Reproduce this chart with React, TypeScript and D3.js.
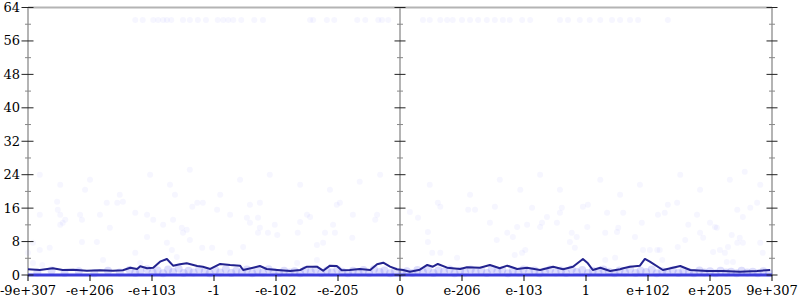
import React from "react";
import * as d3 from "d3";

const xTickPos = [-6, -5, -4, -3, -2, -1, 0, 1, 2, 3, 4, 5, 6];
const xTickLabels = ["-9e+307", "-e+206", "-e+103", "-1", "-e-102", "-e-205", "0", "e-206", "e-103", "1", "e+102", "e+205", "9e+307"];
const yTicks = [0, 8, 16, 24, 32, 40, 48, 56, 64];
const yMinor = [4, 12, 20, 28, 36, 44, 52, 60];
const axisPos = [-6, 0, 6];

const lineX = [-6.0, -5.81, -5.6, -5.44, -5.27, -5.05, -4.84, -4.63, -4.47, -4.35, -4.24, -4.19, -4.08, -3.98, -3.87, -3.76, -3.66, -3.55, -3.44, -3.27, -3.18, -3.06,
  -2.9, -2.74, -2.58, -2.53, -2.37, -2.26, -2.15, -1.98, -1.77, -1.61, -1.5, -1.34, -1.24, -1.13, -1.02, -0.94, -0.81, -0.65, -0.48, -0.37, -0.27, -0.16, -0.05,
  0.05, 0.16, 0.32, 0.44, 0.53, 0.61, 0.76, 0.97, 1.08, 1.29, 1.45, 1.61, 1.73, 1.89, 2.05, 2.26, 2.47, 2.63, 2.79, 2.95, 3.03, 3.11,
  3.23, 3.39, 3.55, 3.6, 3.71, 3.87, 3.95, 4.03, 4.24, 4.4, 4.52, 4.68, 4.95, 5.21, 5.48, 5.76, 5.97];
const lineY = [1.37, 1.2, 1.6, 1.2, 1.27, 1.03, 1.13, 1.03, 1.13, 1.75, 1.44, 2.09, 1.6, 1.75, 3.19, 3.84, 2.23, 2.57, 2.8, 2.16, 1.99, 1.44,
  2.64, 2.4, 2.23, 1.2, 1.75, 2.16, 1.44, 1.2, 0.96, 1.2, 1.99, 1.99, 1.03, 2.23, 2.16, 1.13, 1.2, 1.44, 1.2, 2.57, 2.95, 1.99, 1.37,
  1.2, 0.79, 1.27, 2.4, 1.99, 2.64, 1.75, 1.44, 1.85, 1.75, 2.4, 1.6, 2.23, 1.44, 1.75, 1.2, 1.99, 1.37, 1.99, 3.84, 2.8, 1.2,
  1.75, 0.96, 1.37, 1.6, 1.99, 2.23, 3.84, 3.19, 1.2, 1.75, 2.16, 1.2, 0.96, 0.96, 0.79, 0.96, 1.2, 1.03];

const floorX = [-6, 6];
const floorY = [0, 0];

const scatterPts: [number, number][] = [
  [-5.81, 14.4], [-5.52, 15.6], [-5.48, 14.4], [-5.4, 13.2], [-5.53, 17.5], [-5.16, 14.4], [-5.13, 13.2], [-4.84, 14.4], [-4.73, 17.3], [-4.56, 17.3],
  [-4.47, 17.5], [-4.27, 14.9], [-4.08, 14.4], [-3.98, 13.2], [-3.82, 12.0], [-3.66, 13.2], [-3.52, 11.3], [-3.44, 10.8], [-3.35, 16.3], [-3.27, 17.3],
  [-6.0, 5.3], [-5.92, 7.7], [-5.81, 6.0], [-5.65, 6.5], [-5.48, 12.0], [-5.44, 12.5], [-5.13, 7.9], [-4.89, 7.9], [-4.79, 3.6], [-4.68, 11.3],
  [-4.27, 5.3], [-4.19, 2.9], [-4.08, 9.1], [-3.76, 7.7], [-3.68, 6.0], [-3.6, 4.3], [-3.5, 10.1], [-3.39, 8.4], [-5.92, 2.9], [-5.77, 2.4],
  [-2.95, 15.6], [-2.74, 14.4], [-2.47, 13.7], [-2.42, 12.5], [-2.29, 13.7], [-2.26, 11.3], [-2.13, 10.1], [-2.02, 12.0], [-1.98, 9.6], [-2.29, 10.1],
  [-1.61, 12.7], [-1.65, 10.1], [-1.5, 14.4], [-1.45, 13.9], [-1.34, 7.2], [-1.24, 7.7], [-1.21, 10.1], [-1.05, 10.1], [-1.08, 12.0], [-0.76, 14.4],
  [-0.77, 8.9], [-0.4, 13.2], [-0.37, 14.4], [-3.19, 6.5], [-3.03, 6.5], [-2.74, 5.3], [-2.53, 6.7], [-1.66, 2.9], [-1.34, 3.6], [-3.18, 17.3],
  [-2.42, 16.8], [-2.26, 17.3], [-1.02, 16.8], [-0.97, 17.3],
  [0.61, 17.3], [0.65, 16.3], [0.16, 15.1], [0.29, 13.7], [0.45, 10.3], [0.45, 7.9], [0.52, 5.3], [0.65, 5.3], [0.92, 4.1], [1.1, 15.6],
  [1.21, 15.6], [1.53, 16.3], [1.45, 12.5], [1.73, 10.1], [1.82, 9.1], [1.56, 8.4], [1.89, 11.5], [2.05, 12.0], [1.97, 5.3], [2.02, 6.0],
  [1.85, 4.8], [2.26, 11.5], [2.29, 12.5], [2.37, 13.9], [2.58, 14.9], [2.61, 16.1], [2.53, 12.5], [2.77, 10.1], [2.74, 7.9], [2.82, 6.5],
  [2.85, 9.1], [2.95, 16.3], [3.03, 16.8], [3.02, 11.5], [2.13, 16.1],
  [3.34, 14.9], [3.31, 10.1], [3.5, 10.3], [3.52, 11.3], [3.79, 9.1], [3.6, 14.9], [3.9, 12.5], [3.92, 6.0], [4.03, 6.0], [4.15, 6.0],
  [4.19, 6.0], [4.23, 3.6], [4.16, 14.4], [4.27, 14.9], [4.32, 16.8], [4.47, 17.3], [4.48, 6.7], [4.6, 8.4], [4.79, 14.4], [4.65, 12.0],
  [4.84, 10.1], [4.89, 8.9], [5.0, 12.5], [5.08, 11.5], [5.11, 11.3], [5.05, 5.5], [5.16, 6.0], [5.24, 5.3], [5.27, 3.1], [5.37, 3.1],
  [5.29, 6.7], [5.35, 9.6], [5.44, 7.7], [5.48, 8.9], [5.53, 7.7], [5.44, 15.6], [5.65, 16.1], [5.53, 13.9], [5.81, 7.7], [5.85, 5.3],
  [5.76, 17.3], [3.31, 3.6], [3.47, 4.1],
  [-5.81, 24.0], [-5.48, 21.6], [-5.08, 20.4], [-5.0, 22.8], [-4.52, 19.2], [-4.03, 24.0], [-3.71, 21.6], [-3.63, 19.2], [-3.39, 25.2], [-2.9, 19.2],
  [-2.58, 22.8], [-2.1, 24.0], [-1.61, 21.6], [-1.13, 20.4], [-0.65, 22.3], [-0.32, 24.0], [0.48, 21.6], [1.13, 19.2], [1.61, 22.8], [1.94, 20.4],
  [2.26, 24.0], [2.58, 20.4], [3.23, 22.8], [3.55, 19.2], [3.87, 21.6], [4.52, 24.0], [4.84, 20.4], [5.32, 22.8], [5.81, 21.6], [5.56, 24.7],
];

const topRowX = [-4.27, -4.15, -3.98, -3.9, -3.82, -3.76, -3.69, -3.5, -3.39, -3.26, -3.13, -2.94, -2.85, -2.77, -2.69, -2.56, -2.35, -2.21,
  -1.45, -1.4, -1.18, -1.06, -0.69, -0.56, -0.35, -0.29, -0.19,
  0.37, 0.48, 0.65, 0.76, 0.85, 1.0, 1.13, 1.26, 1.4, 1.53, 1.66, 1.77, 1.97, 2.1, 2.58, 2.71, 2.9, 3.06, 3.23, 3.42, 3.55, 3.71, 3.84, 4.32];
const topRowY = 61;

const bandPts: [number, number][] = [
  [-5.85, 0.6], [-5.62, 1.1], [-5.41, 0.5], [-5.18, 0.9], [-4.93, 0.4], [-4.71, 1.0], [-4.52, 0.6],
  [-4.36, 1.2], [-4.27, 0.5], [-4.19, 0.9], [-4.08, 1.4], [-3.99, 0.6], [-3.91, 1.1], [-3.82, 0.4], [-3.74, 1.3], [-3.66, 0.7], [-3.57, 1.5],
  [-3.49, 0.5], [-3.41, 1.0], [-3.33, 0.6], [-3.24, 1.3], [-3.15, 0.8], [-3.07, 0.4], [-2.98, 1.2], [-2.9, 0.6], [-2.81, 1.4], [-2.72, 0.5],
  [-2.64, 1.0], [-2.55, 0.7], [-2.47, 1.3], [-2.38, 0.4], [-2.3, 1.1], [-2.21, 0.6], [-2.12, 1.4], [-2.04, 0.8], [-1.95, 0.5], [-1.87, 1.0],
  [-1.78, 0.6], [-1.7, 0.9], [-1.61, 0.4], [-1.53, 1.2], [-1.44, 0.7], [-1.36, 1.4], [-1.27, 0.5], [-1.18, 1.1], [-1.1, 0.6], [-1.01, 1.3],
  [-0.93, 0.8], [-0.84, 0.4], [-0.76, 1.0], [-0.67, 0.6], [-0.59, 1.2], [-0.5, 0.5], [-0.42, 1.4], [-0.33, 0.7], [-0.25, 1.1], [-0.16, 0.4], [-0.08, 0.9],
  [0.03, 0.6], [0.11, 0.9], [0.2, 0.5], [0.28, 1.2], [0.37, 0.7], [0.45, 1.4], [0.54, 0.5], [0.62, 1.1], [0.71, 0.8], [0.8, 1.3], [0.88, 0.4],
  [0.97, 1.0], [1.05, 0.6], [1.14, 1.3], [1.22, 0.7], [1.31, 1.1], [1.4, 0.5], [1.48, 1.4], [1.57, 0.8], [1.65, 1.2], [1.74, 0.4], [1.82, 1.0],
  [1.91, 0.6], [1.99, 1.3], [2.08, 0.7], [2.17, 1.1], [2.25, 0.4], [2.34, 0.9], [2.42, 1.3], [2.51, 0.6], [2.6, 1.1], [2.68, 0.5], [2.77, 1.4],
  [2.85, 0.7], [2.94, 1.2], [3.03, 0.5], [3.11, 1.0], [3.2, 0.6], [3.28, 1.3], [3.37, 0.8], [3.46, 0.4], [3.54, 1.1], [3.63, 0.6], [3.71, 1.4],
  [3.8, 0.5], [3.88, 1.0], [3.97, 0.7], [4.06, 1.3], [4.14, 0.4], [4.23, 0.9], [4.31, 0.6], [4.4, 1.2], [4.49, 0.5], [4.57, 1.0], [4.66, 0.7],
  [4.74, 0.4], [4.83, 1.1], [4.91, 0.6], [5.0, 0.9], [5.09, 0.4], [5.17, 1.0], [5.26, 0.6], [5.34, 0.8], [5.43, 0.4], [5.51, 1.0], [5.6, 0.6],
  [5.69, 0.8], [5.77, 0.4], [5.86, 0.9], [5.95, 0.5],
];

export default function App() {
  const W = 800, H = 300;
  const x = d3.scaleLinear().domain([-6, 6]).range([28, 772]);
  const y = d3.scaleLinear().domain([0, 64]).range([275, 7.5]);
  const line = d3.line<number>().x((_, i) => x(lineX[i])).y((d) => y(d));
  const floorLine = d3.line<number>().x((_, i) => x(floorX[i])).y((d) => y(d));
  const font = "DejaVu Serif";
  const dotFill = "rgba(100,100,255,0.06)";
  return (
    <svg width={W} height={H} style={{ position: "absolute", left: 0, top: 0 }} fontFamily={font}>
      <rect x={0} y={0} width={W} height={H} fill="#fff" />
      <line x1={x(-6)} x2={x(6)} y1={y(64)} y2={y(64)} stroke="#b4b4b4" strokeWidth={2} />
      {axisPos.map((a) => (
        <line key={"ax" + a} x1={x(a)} x2={x(a)} y1={y(64)} y2={y(0)} stroke="#b4b4b4" strokeWidth={2} />
      ))}
      {scatterPts.map((p, i) => (
        <circle key={"s" + i} cx={x(p[0])} cy={y(p[1])} r={3} fill={dotFill} />
      ))}
      {topRowX.map((v, i) => (
        <circle key={"t" + i} cx={x(v)} cy={y(topRowY)} r={3} fill={dotFill} />
      ))}
      {bandPts.map((p, i) => (
        <circle key={"b" + i} cx={x(p[0])} cy={y(p[1])} r={4} fill="rgba(90,90,240,0.2)" />
      ))}
      <path d={floorLine(floorY) || ""} fill="none" stroke="#3c3cdc" strokeWidth={3} />
      <path d={line(lineY) || ""} fill="none" stroke="#23238f" strokeWidth={2} strokeLinejoin="round" />
      {axisPos.map((a) => (
        <g key={"yt" + a}>
          {yMinor.map((t) => (
            <line key={"m" + t} x1={x(a) - 3} x2={x(a) + 3} y1={y(t)} y2={y(t)} stroke="#888" strokeWidth={1} />
          ))}
          {yTicks.map((t) => (
            <line key={"M" + t} x1={x(a) - (a === -6 ? 6.5 : 5.5)} x2={x(a) + 5.5} y1={y(t)} y2={y(t)} stroke="#222" strokeWidth={1} />
          ))}
        </g>
      ))}
      {yTicks.map((t) => (
        <text key={"yl" + t} x={20} y={y(t) + 4.5} textAnchor="end" fontSize={13} fill="#000">{t}</text>
      ))}
      {xTickPos.map((p, i) => (
        <g key={"xt" + i}>
          <line x1={x(p)} x2={x(p)} y1={y(0)} y2={y(0) + 6} stroke="#000" strokeWidth={1} />
          <text x={x(p)} y={295} textAnchor="middle" fontSize={13} fill="#000">{xTickLabels[i]}</text>
        </g>
      ))}
    </svg>
  );
}
